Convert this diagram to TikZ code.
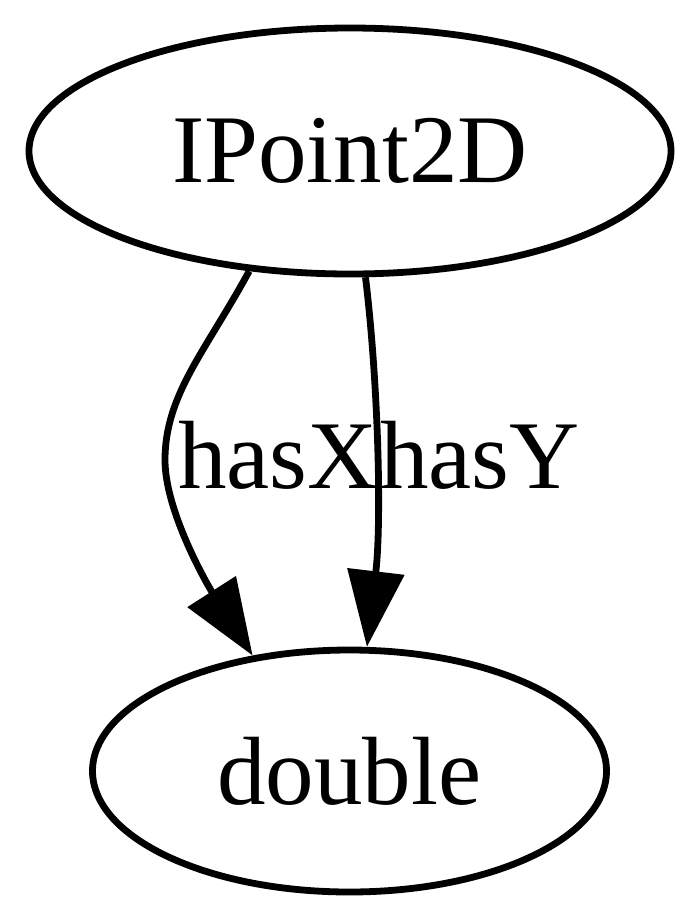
\documentclass[tikz,border=0pt]{standalone}
\usepackage{fontspec}
\setmainfont{Liberation Serif}
\usetikzlibrary{arrows.meta,shapes.geometric}
\begin{document}
\begin{tikzpicture}[x=0.5pt,y=-0.5pt,
  gnode/.style={draw,ellipse,line width=3.4pt,inner sep=0pt,font=\fontsize{48.5}{58}\selectfont},
  glabel/.style={inner sep=0pt,anchor=base,font=\fontsize{48.5}{58}\selectfont},
  gedge/.style={line width=3.4pt,-{Triangle[length=38pt,width=28pt]}}]
\useasboundingbox (0,0) rectangle (700,922);
\node[gnode,minimum width=321pt,minimum height=123pt] (top) at (350,151) {IPoint2D};
\node[gnode,minimum width=257pt,minimum height=121pt] (bot) at (349.5,771) {double};
\node[glabel] (lx) at (278,488) {hasX};
\node[glabel] (ly) at (480,488) {hasY};
\draw[gedge] (top.230) .. controls (205,352) and (165,395) .. (165,460)
  .. controls (165,513) and (210,589) .. (bot.130.5);
\draw[gedge] (top.277.6) .. controls (378,380) and (382,520) .. (bot.82.5);
\end{tikzpicture}
\end{document}
